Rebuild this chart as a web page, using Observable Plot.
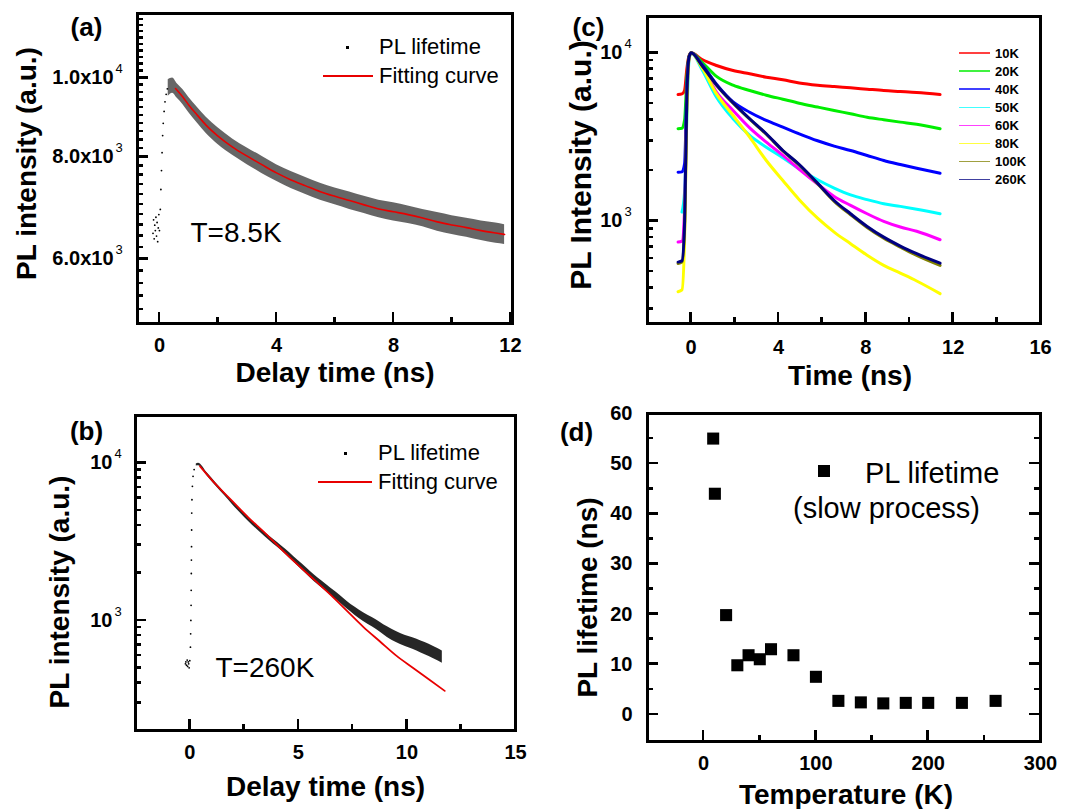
<!DOCTYPE html>
<html><head><meta charset="utf-8">
<script src="https://cdn.jsdelivr.net/npm/d3@7"></script>
<script src="https://cdn.jsdelivr.net/npm/@observablehq/plot@0.6"></script>
<style>
body{margin:0;background:#fff;}
#wrap{position:relative;width:1070px;height:809px;background:#fff;overflow:hidden;font-family:'Liberation Sans',Arial,Helvetica,sans-serif;}
.lg{position:absolute;white-space:nowrap;color:#000;}
.bx{position:absolute;}
</style></head><body><div id="wrap"></div>
<script>
// ---------- Panel (a): T = 8.5 K ----------
const timeA = [0.3, 0.45, 0.6, 0.8, 1.0, 1.3, 1.6, 2.0, 2.5, 3.0, 3.5, 4.0, 4.5, 5.0, 5.5, 6.0, 6.5, 7.0, 7.5, 8.0, 8.5, 9.0, 9.5, 10.0, 10.5, 11.0, 11.5, 11.8];
const hiA = [9950, 10000, 9850, 9680, 9470, 9200, 8950, 8690, 8420, 8210, 8020, 7830, 7680, 7550, 7430, 7330, 7250, 7160, 7080, 7030, 6970, 6900, 6840, 6780, 6730, 6680, 6640, 6610];
const loA = [9500, 9580, 9450, 9280, 9070, 8800, 8550, 8290, 8040, 7830, 7640, 7470, 7320, 7200, 7080, 6990, 6900, 6820, 6740, 6680, 6630, 6570, 6490, 6430, 6380, 6320, 6270, 6250];
const fitTimeA = [0.55, 0.8, 1.0, 1.3, 1.6, 2.0, 2.5, 3.0, 3.5, 4.0, 4.5, 5.0, 5.5, 6.0, 6.5, 7.0, 7.5, 8.0, 8.5, 9.0, 9.5, 10.0, 10.5, 11.0, 11.5, 11.8];
const fitA = [9710, 9480, 9270, 9000, 8750, 8490, 8230, 8020, 7830, 7650, 7500, 7375, 7255, 7160, 7075, 6990, 6910, 6855, 6800, 6735, 6662, 6605, 6555, 6500, 6455, 6430];
const preTimeA = [-0.22, -0.2, -0.18, -0.16, -0.14, -0.12, -0.1, -0.08, -0.06, -0.04, -0.02, 0.0];
const preA = [6450, 6700, 6350, 6600, 6500, 6750, 6400, 6650, 6300, 6550, 6800, 6500];
const riseTimeA = [0.03, 0.05, 0.07, 0.09, 0.11, 0.13, 0.16, 0.19, 0.23, 0.27];
const riseA = [6900, 7300, 7700, 8100, 8500, 8800, 9100, 9350, 9550, 9700];

// ---------- Panel (b): T = 260 K ----------
const timeB = [0.3, 0.4, 0.8, 1.21, 1.6, 1.97, 2.35, 2.72, 3.1, 3.48, 3.85, 4.23, 4.6, 4.99, 5.37, 5.74, 6.1, 6.5, 6.9, 7.25, 7.6, 8.0, 8.4, 8.76, 9.1, 9.51, 9.9, 10.27, 10.65, 11.02, 11.3, 11.63];
const hiB = [9850, 9950, 8650, 7450, 6500, 5700, 5030, 4460, 4000, 3600, 3270, 2970, 2690, 2400, 2160, 1940, 1770, 1600, 1450, 1320, 1215, 1120, 1045, 975, 910, 850, 805, 775, 740, 705, 675, 640];
const loB = [9550, 9600, 8270, 7100, 6200, 5420, 4780, 4230, 3780, 3390, 3060, 2770, 2480, 2210, 1970, 1760, 1600, 1440, 1300, 1180, 1080, 985, 910, 845, 780, 725, 685, 655, 620, 590, 565, 535];
const fitTimeB = [0.47, 1.2, 1.97, 2.7, 3.48, 4.2, 4.99, 5.75, 6.5, 7.25, 8.0, 8.76, 9.51, 10.27, 11.02, 11.74];
const fitB = [9520, 7300, 5690, 4500, 3574, 2850, 2244, 1800, 1446, 1145, 907, 735, 598, 501, 422, 357];
const preTimeB = [-0.2, -0.18, -0.15, -0.12, -0.1, -0.07, -0.05, -0.03, 0.0];
const preB = [530, 545, 520, 560, 510, 545, 530, 500, 555];
const riseTimeB = [0.03, 0.04, 0.05, 0.06, 0.065, 0.07, 0.075, 0.08, 0.085, 0.09, 0.1, 0.12, 0.15, 0.2];
const riseB = [676, 822, 1000, 1247, 1553, 1985, 2416, 2937, 3750, 4800, 5837, 7100, 8225, 9066];

// ---------- Panel (c): temperature series ----------
const seriesC = ["10K", "20K", "40K", "50K", "60K", "80K", "100K", "260K"];
const colorsC = ["#ff0000", "#00ee00", "#0000ff", "#00ffff", "#ff00ff", "#ffff00", "#808000", "#000080"];
const timeC = [-0.6, -0.42, -0.3, -0.2, -0.1, 0, 0.5, 1.16, 1.92, 2.68, 3.44, 4.2, 4.95, 5.79, 6.55, 7.3, 8.06, 8.82, 9.58, 10.33, 11.4];
const c10K  = [5650, 5700, 6000, 8000, 9600, 10000, 9120, 8404, 7850, 7500, 7160, 6911, 6620, 6420, 6300, 6194, 6080, 5970, 5890, 5810, 5652];
const c20K  = [3540, 3560, 4000, 7000, 9500, 10000, 8790, 7250, 6420, 5970, 5600, 5300, 5020, 4760, 4540, 4341, 4140, 4000, 3873, 3760, 3535];
const c40K  = [1950, 1960, 2200, 6000, 9400, 10000, 8520, 6500, 5100, 4436, 3963, 3620, 3300, 3000, 2790, 2627, 2453, 2291, 2168, 2060, 1925];
const c50K  = [null, 1130, 1500, 4000, 9000, 10000, 7930, 5445, 4055, 3228, 2749, 2380, 2040, 1760, 1570, 1430, 1340, 1267, 1222, 1175, 1105];
const c60K  = [750, 760, 1200, 5000, 9200, 10000, 8300, 5837, 4540, 3581, 2946, 2455, 2030, 1660, 1400, 1239, 1105, 995, 921, 870, 774];
const c80K  = [380, 390, 800, 4500, 9200, 10000, 8150, 5700, 4241, 3151, 2291, 1742, 1340, 1040, 860, 733, 626, 545, 490, 440, 370];
const c100K = [560, 570, 900, 5000, 9300, 10000, 8380, 6420, 5020, 4030, 3280, 2610, 2150, 1665, 1310, 1090, 915, 790, 700, 625, 545];
const c260K = [570, 580, 1000, 5500, 9400, 10000, 8400, 6450, 5050, 4055, 3303, 2627, 2168, 1680, 1325, 1105, 929, 802, 710, 640, 562];
const valuesC = [c10K, c20K, c40K, c50K, c60K, c80K, c100K, c260K];

// ---------- Panel (d): slow PL lifetime vs temperature ----------
const tempD = [8.5, 10, 20, 30, 40, 50, 60, 80, 100, 120, 140, 160, 180, 200, 230, 260];
const tauD = [55, 44, 19.8, 9.8, 11.8, 11.0, 13.0, 11.8, 7.5, 2.7, 2.4, 2.2, 2.3, 2.3, 2.3, 2.7];

// ---------- Ticks ----------
const xTickA = [0, 4, 8, 12], xMinorA = [2, 6, 10];
const yTickA = [6000, 8000, 10000], yTickTextA = ["6.0x10", "8.0x10", "1.0x10"], yTickExpA = ["3", "3", "4"];
const xTickB = [0, 5, 10, 15], xMinorB = [2.5, 7.5, 12.5];
const yTickB = [1000, 10000], yTickTextB = ["10", "10"], yTickExpB = ["3", "4"];
const xTickC = [0, 4, 8, 12, 16], xMinorC = [2, 6, 10, 14];
const yTickC = [1000, 10000], yTickTextC = ["10", "10"], yTickExpC = ["3", "4"];
const xTickD = [0, 100, 200, 300], xMinorD = [50, 150, 250];
const yTickD = [0, 10, 20, 30, 40, 50, 60], yMinorD = [5, 15, 25, 35, 45, 55];

const logMinor = (lo, hi) => {
  const out = [];
  for (let e = 1; e <= 5; e++) for (let m = 2; m <= 9; m++) { const v = m * 10 ** e; if (v >= lo && v <= hi) out.push(v); }
  return out;
};
const yMinorA = d3.range(5000, 12001, 200).filter(v => !yTickA.includes(v));
const yMinorB = logMinor(200, 20000);
const yMinorC = logMinor(246, 16440);

const FONT = "'Liberation Sans', Arial, Helvetica, sans-serif";
const INK = "#000";
const wrap = document.getElementById("wrap");
const panels = [];

function xLabels(ticks, dy) {
  return Plot.text(ticks, {x: d => d, text: d => String(d), frameAnchor: "bottom", lineAnchor: "middle", textAnchor: "middle", dy, fontSize: 20, fontWeight: "bold", fill: INK});
}
function yPowLabels(ticks, base, exp, dx) {
  return [
    Plot.text(ticks, {y: d => d, text: (d, i) => base[i], frameAnchor: "left", textAnchor: "end", lineAnchor: "middle", dx, fontSize: 20, fontWeight: "bold", fill: INK}),
    Plot.text(ticks, {y: d => d, text: (d, i) => exp[i], frameAnchor: "left", textAnchor: "start", lineAnchor: "middle", dx: dx + 2, dy: -9, fontSize: 13, fill: INK})
  ];
}
function textAt(str, opts) {
  return Plot.text([str], {text: d => d, textAnchor: "middle", lineAnchor: "middle", fill: INK, ...opts});
}
function panel({left, top, width, height, ml, mr, mt, mb, x, y, color, marks, ticks}) {
  const opts = {
    width, height, marginLeft: ml, marginRight: mr, marginTop: mt, marginBottom: mb,
    x: {...x, axis: null}, y: {...y, axis: null},
    style: {fontFamily: FONT, background: "transparent"},
    marks
  };
  if (color) opts.color = color;
  const p = Plot.plot(opts);
  const holder = document.createElement("div");
  holder.style.cssText = `position:absolute;left:${left}px;top:${top}px;width:${width}px;height:${height}px;`;
  holder.append(p);
  wrap.append(holder);
  const sx = p.scale("x"), sy = p.scale("y");
  const fx = sx.apply ? v => sx.apply(v) : Plot.scale({x: sx}).apply;
  const fy = sy.apply ? v => sy.apply(v) : Plot.scale({y: sy}).apply;
  panels.push({left, top, width, height, ml, mr, mt, mb, fx, fy, ticks});
}

// (a)
const bandA = timeA.map((t, i) => ({t, lo: loA[i], hi: hiA[i]}));
const fitDataA = fitTimeA.map((t, i) => ({t, v: fitA[i]}));
const dotsA = [...preTimeA.map((t, i) => ({t, v: preA[i]})), ...riseTimeA.map((t, i) => ({t, v: riseA[i]}))];
panel({left: 0, top: 0, width: 535, height: 400, ml: 137, mr: 23, mt: 13, mb: 77,
  x: {domain: [-0.75, 12.07]}, y: {type: "log", domain: [5000, 12000]},
  ticks: {xMaj: xTickA, xMin: xMinorA, yMaj: yTickA, yMin: yMinorA, both: false},
  marks: [
    Plot.areaY(bandA, {x: "t", y1: "lo", y2: "hi", fill: "#000", fillOpacity: 0.6, curve: "monotone-x"}),
    Plot.dot(dotsA, {x: "t", y: "v", r: 0.9, fill: "#000"}),
    Plot.line(fitDataA, {x: "t", y: "v", stroke: "#e80000", strokeWidth: 1.6, curve: "monotone-x"}),
    xLabels(xTickA, 22),
    ...yPowLabels(yTickA, yTickTextA, yTickExpA, -24),
    textAt("Delay time (ns)", {frameAnchor: "bottom", dx: 10, dy: 50, fontSize: 28, fontWeight: "bold"}),
    textAt("PL intensity (a.u.)", {frameAnchor: "left", rotate: -90, dx: -110, dy: -5, fontSize: 28, fontWeight: "bold"}),
    textAt("(a)", {frameAnchor: "top-left", dx: -51, dy: 14, fontSize: 26, fontWeight: "bold"}),
    textAt("T=8.5K", {frameAnchor: "top-left", textAnchor: "start", dx: 53, dy: 220, fontSize: 28})
  ]});

// (b)
const bandB = timeB.map((t, i) => ({t, lo: loB[i], hi: hiB[i]}));
const fitDataB = fitTimeB.map((t, i) => ({t, v: fitB[i]}));
const dotsB = [...preTimeB.map((t, i) => ({t, v: preB[i]})), ...riseTimeB.map((t, i) => ({t, v: riseB[i]}))];
panel({left: 0, top: 400, width: 535, height: 409, ml: 135, mr: 20, mt: 15, mb: 79,
  x: {domain: [-2.5, 15]}, y: {type: "log", domain: [200, 20000]},
  ticks: {xMaj: xTickB, xMin: xMinorB, yMaj: yTickB, yMin: yMinorB, both: false},
  marks: [
    Plot.areaY(bandB, {x: "t", y1: "lo", y2: "hi", fill: "#000", fillOpacity: 0.85, curve: "monotone-x"}),
    Plot.dot(dotsB, {x: "t", y: "v", r: 0.9, fill: "#000"}),
    Plot.line(fitDataB, {x: "t", y: "v", stroke: "#e80000", strokeWidth: 1.8, curve: "monotone-x"}),
    xLabels(xTickB, 22),
    ...yPowLabels(yTickB, yTickTextB, yTickExpB, -23),
    textAt("Delay time (ns)", {frameAnchor: "bottom", dx: 0, dy: 57, fontSize: 28, fontWeight: "bold"}),
    textAt("PL intensity (a.u.)", {frameAnchor: "left", rotate: -90, dx: -75, dy: 19, fontSize: 28, fontWeight: "bold"}),
    textAt("(b)", {frameAnchor: "top-left", dx: -49, dy: 16, fontSize: 26, fontWeight: "bold"}),
    textAt("T=260K", {frameAnchor: "top-left", textAnchor: "start", dx: 80, dy: 253, fontSize: 28})
  ]});

// (c)
const dataC = seriesC.flatMap((s, k) => timeC.map((t, i) => ({t, v: valuesC[k][i], s}))).filter(d => d.v != null);
panel({left: 535, top: 0, width: 535, height: 400, ml: 112, mr: 30, mt: 16, mb: 77,
  x: {domain: [-2, 16]}, y: {type: "log", domain: [246, 16440]},
  color: {domain: seriesC, range: colorsC},
  ticks: {xMaj: xTickC, xMin: xMinorC, yMaj: yTickC, yMin: yMinorC, both: false},
  marks: [
    Plot.line(dataC, {x: "t", y: "v", z: "s", stroke: "s", strokeWidth: 3, curve: "monotone-x"}),
    xLabels(xTickC, 24),
    ...yPowLabels(yTickC, yTickTextC, yTickExpC, -25),
    textAt("Time (ns)", {frameAnchor: "bottom", dx: 6, dy: 53, fontSize: 28, fontWeight: "bold"}),
    textAt("PL Intensity (a.u.)", {frameAnchor: "left", rotate: -90, dx: -66, dy: -5, fontSize: 30, fontWeight: "bold"}),
    textAt("(c)", {frameAnchor: "top-left", dx: -59, dy: 11, fontSize: 26, fontWeight: "bold"})
  ]});

// (d)
const dataD = tempD.map((T, i) => ({T, tau: tauD[i]}));
panel({left: 535, top: 400, width: 535, height: 409, ml: 112, mr: 30, mt: 13, mb: 68,
  x: {domain: [-50, 300]}, y: {domain: [-5.4, 60]},
  ticks: {xMaj: xTickD, xMin: xMinorD, yMaj: yTickD, yMin: yMinorD, both: true},
  marks: [
    Plot.dot(dataD, {x: "T", y: "tau", symbol: "square", r: 6.8, fill: "#000"}),
    xLabels(xTickD, 22),
    Plot.text(yTickD, {y: d => d, text: d => String(d), frameAnchor: "left", textAnchor: "end", lineAnchor: "middle", dx: -15, fontSize: 20, fontWeight: "bold", fill: INK}),
    textAt("Temperature (K)", {frameAnchor: "bottom", dx: 2, dy: 54, fontSize: 28, fontWeight: "bold"}),
    textAt("PL lifetime (ns)", {frameAnchor: "left", rotate: -90, dx: -59, dy: 20, fontSize: 28, fontWeight: "bold"}),
    textAt("(d)", {frameAnchor: "top-left", dx: -71, dy: 19, fontSize: 26, fontWeight: "bold"})
  ]});

// ---------- Frames and inward ticks (HTML boxes placed with the plots' own scales) ----------
function box(l, t, w, h, bg) {
  const d = document.createElement("div");
  d.className = "bx";
  d.style.cssText = `left:${l}px;top:${t}px;width:${w}px;height:${h}px;background:${bg};`;
  wrap.append(d);
  return d;
}
panels.forEach(P => {
  const {left, top, width, height, ml, mr, mt, mb, fx, fy, ticks} = P;
  const x0 = left + ml, x1 = left + width - mr, y0 = top + mt, y1 = top + height - mb;
  const MAJ = 11, MIN = 6, TW = 2.6;
  const tx = (vals, len) => vals.forEach(v => { const xx = left + fx(v); box(xx - TW / 2, y1 - len, TW, len, "#000"); });
  const tyl = (vals, len) => vals.forEach(v => { const yy = top + fy(v); box(x0, yy - TW / 2, len, TW, "#000"); });
  const tyr = (vals, len) => vals.forEach(v => { const yy = top + fy(v); box(x1 - len, yy - TW / 2, len, TW, "#000"); });
  tx(ticks.xMaj, MAJ); tx(ticks.xMin, MIN); tyl(ticks.yMaj, MAJ); tyl(ticks.yMin, MIN);
  if (ticks.both) { tyr(ticks.yMaj, MAJ); tyr(ticks.yMin, MIN); }
  const f = box(x0 - 1.5, y0 - 1.5, x1 - x0 - 3, y1 - y0 - 3, "transparent");
  f.style.border = "3px solid #000";
});

// ---------- Legends (HTML) ----------
function label(str, x, cy, size, bold) {
  const s = document.createElement("span");
  s.className = "lg";
  s.textContent = str;
  s.style.cssText = `left:${x}px;top:${cy - size / 2}px;font-size:${size}px;line-height:${size}px;font-weight:${bold ? "bold" : "normal"};`;
  wrap.append(s);
}
function dotLegend(dx, dy, lx1, lx2, ly, tx, ty1, ty2) {
  box(dx - 1.5, dy - 1.5, 3, 3, "#000");
  label("PL lifetime", tx, ty1, 22, false);
  box(lx1, ly - 0.8, lx2 - lx1, 1.6, "#e80000");
  label("Fitting curve", tx, ty2, 22, false);
}
dotLegend(347, 47, 323, 373, 76, 379, 47, 76);
dotLegend(345, 453, 318, 372, 482, 378, 453, 482);
seriesC.forEach((s, i) => {
  const yy = 53 + i * 18.1;
  const ln = box(959, yy - 0.8, 31, 1.6, colorsC[i]);
  ln.style.opacity = "0.75";
  label(s, 995, yy, 13, true);
});
box(818, 465, 12, 12, "#000");
label("PL lifetime", 865, 473, 29, false);
label("(slow process)", 793, 508, 29, false);
</script></body></html>
